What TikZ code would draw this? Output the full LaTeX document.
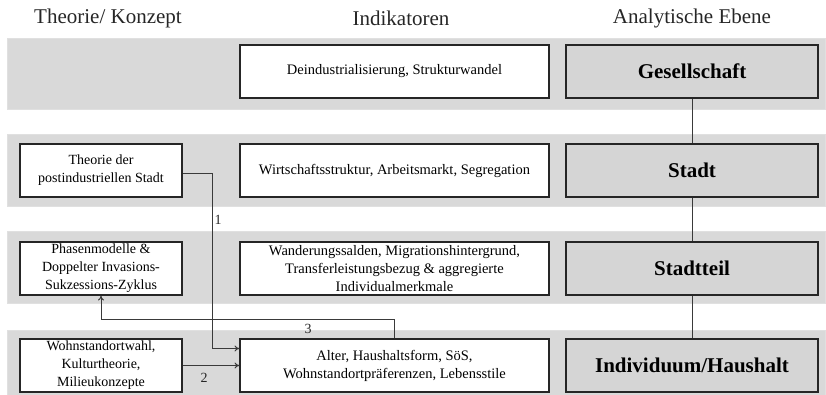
\documentclass[tikz,border=0pt]{standalone}
\usepackage{fontspec}
\setmainfont{Liberation Serif}
\usetikzlibrary{arrows.meta}
\definecolor{bandgray}{HTML}{D9D9D9}
\definecolor{linegray}{HTML}{3A3A3A}
\begin{document}
\begin{tikzpicture}[x=1pt,y=-1pt,
  header/.style={font=\fontsize{21}{24}\selectfont, text=black!85},
  band/.style={fill=bandgray, draw=black!12, line width=0.6pt},
  theorybox/.style={draw=black!85, line width=1.2pt, fill=white, minimum width=162pt, minimum height=53pt,
     inner sep=2pt, align=center, font=\fontsize{14}{18}\selectfont},
  indbox/.style={draw=black!85, line width=1.2pt, fill=white, minimum width=309pt, minimum height=53pt,
     inner sep=2pt, align=center, font=\fontsize{14.5}{18}\selectfont},
  levelbox/.style={draw=black!85, line width=1.3pt, fill=bandgray!98!black, minimum width=252pt, minimum height=53pt,
     inner sep=2pt, align=center, font=\fontsize{21}{24}\selectfont\bfseries},
  link/.style={draw=linegray, line width=0.9pt},
  arr/.style={link, -{To[length=5pt,width=6pt]}},
  num/.style={font=\fontsize{14}{16}\selectfont, text=black!85, inner sep=1pt}
]
\useasboundingbox (0,0) rectangle (826,395);

% column headings
\node[header] (h1) at (108,18) {Theorie/ Konzept};
\node[header] (h2) at (401,18) {Indikatoren};
\node[header] (h3) at (692,18) {Analytische Ebene};

% grey bands, one per level
\path[band] (7,38) rectangle (825,109);
\path[band] (7,134) rectangle (825,206);
\path[band] (7,231) rectangle (825,303);
\path[band] (7,330) rectangle (825,396);

% level: society
\node[indbox] (i1) at (394.5,71.5) {Deindustrialisierung, Strukturwandel};
\node[levelbox] (r1) at (692,71.5) {Gesellschaft};

% level: city
\node[theorybox] (t2) at (101,170.5) {Theorie der\\postindustriellen Stadt};
\node[indbox] (i2) at (394.5,170.5) {Wirtschaftsstruktur, Arbeitsmarkt, Segregation};
\node[levelbox] (r2) at (692,170.5) {Stadt};

% level: district
\node[theorybox] (t3) at (101,268.5) {Phasenmodelle \&\\Doppelter Invasions-\\Sukzessions-Zyklus};
\node[indbox] (i3) at (394.5,268.5) {Wanderungssalden, Migrationshintergrund,\\Transferleistungsbezug \& aggregierte\\Individualmerkmale};
\node[levelbox] (r3) at (692,268.5) {Stadtteil};

% level: individual / household
\node[theorybox] (t4) at (101,365.5) {Wohnstandortwahl,\\Kulturtheorie,\\Milieukonzepte};
\node[indbox] (i4) at (394.5,365.5) {Alter, Haushaltsform, SöS,\\Wohnstandortpräferenzen, Lebensstile};
\node[levelbox] (r4) at (692,365.5) {Individuum/Haushalt};

% vertical chain of analytic levels
\draw[link] (r1) -- (r2);
\draw[link] (r2) -- (r3);
\draw[link] (r3) -- (r4);

% numbered relations
\draw[arr] ([yshift=-3pt]t2.east) -- ++(30,0) |- ([yshift=17pt]i4.west);
\node[num] (n1) at (218,220) {1};
\draw[arr] (t4.east) -- (i4.west);
\node[num] (n2) at (204,378) {2};
\draw[arr] (i4.north) -- ++(0,-19) -| (t3.south);
\node[num] (n3) at (308,329) {3};
\end{tikzpicture}
\end{document}
